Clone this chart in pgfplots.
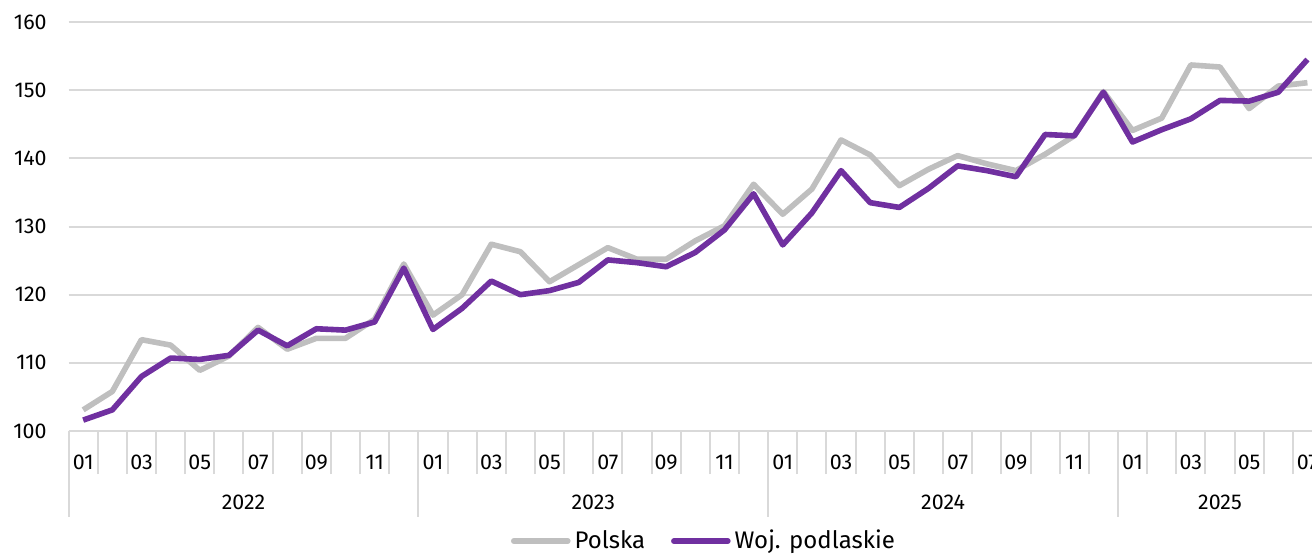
\documentclass[border=0pt]{standalone}
\usepackage{fontspec}
\setmainfont{Fira Sans}
\usepackage{pgfplots}
\pgfplotsset{compat=1.18}
\definecolor{pgray}{HTML}{BFBFBF}
\definecolor{ppurple}{HTML}{7030A0}
\definecolor{gridgray}{HTML}{D9D9D9}
\begin{document}
\fontsize{10.5}{12}\selectfont
\begin{tikzpicture}
\begin{axis}[
  at={(0,0)}, anchor=south west,
  scale only axis,
  width=626.7pt, height=204.5pt,
  xmin=-0.5, xmax=42.5, ymin=100, ymax=160,
  clip=false,
  axis line style={draw=none},
  xtick pos=bottom, ytick pos=left,
  ytick={100,110,...,160},
  ymajorgrids, grid style={gridgray, line width=1pt},
  ytick style={draw=none},
  xtick={0,2,...,42},
  xticklabels={01,03,05,07,09,11,01,03,05,07,09,11,01,03,05,07,09,11,01,03,05,07},
  xtick style={draw=none},
  major tick length=0pt,
  minor xtick={0.5,1.5,...,41.5},
  minor tick length=21.5pt,
  tick align=outside,
  minor x tick style={draw=gridgray, line width=1pt},
  /pgf/number format/assume math mode=true,
  every tick label/.append style={font=\fontsize{10.7}{12}\selectfont, text=black},
  xticklabel style={anchor=center, yshift=-15.5pt},
  yticklabel style={anchor=east, xshift=-10.8pt, inner sep=0pt},
  legend style={at={(axis description cs:0.5077,-0.269)}, anchor=center, draw=none, fill=none,
    font=\fontsize{12}{13}\selectfont, inner sep=0pt,
    /tikz/every even column/.append style={column sep=11pt}},
  legend columns=-1,
  legend image code/.code={\draw[#1, line cap=round] (0pt,0pt) -- (27pt,0pt);},
]
\addplot[pgray, line width=2.8pt, line join=round] coordinates {
(0,103.1)(1,105.8)(2,113.4)(3,112.6)(4,108.9)(5,111.0)(6,115.2)(7,112.0)(8,113.6)(9,113.6)(10,116.4)(11,124.5)
(12,117.0)(13,120.0)(14,127.4)(15,126.3)(16,121.9)(17,124.4)(18,126.9)(19,125.2)(20,125.2)(21,127.9)(22,130.1)(23,136.2)
(24,131.8)(25,135.5)(26,142.7)(27,140.5)(28,136.0)(29,138.4)(30,140.4)(31,139.2)(32,138.2)(33,140.6)(34,143.3)(35,149.8)
(36,144.1)(37,145.9)(38,153.7)(39,153.4)(40,147.3)(41,150.6)(42,151.1)};
\addlegendentry{Polska}
\addplot[ppurple, line width=2.8pt, line join=round] coordinates {
(0,101.6)(1,103.1)(2,108.0)(3,110.7)(4,110.5)(5,111.1)(6,114.8)(7,112.5)(8,115.0)(9,114.8)(10,116.0)(11,123.9)
(12,114.9)(13,118.0)(14,122.0)(15,120.0)(16,120.6)(17,121.8)(18,125.1)(19,124.7)(20,124.1)(21,126.2)(22,129.5)(23,134.8)
(24,127.3)(25,132.0)(26,138.2)(27,133.5)(28,132.8)(29,135.6)(30,138.9)(31,138.2)(32,137.3)(33,143.5)(34,143.3)(35,149.7)
(36,142.4)(37,144.2)(38,145.8)(39,148.5)(40,148.4)(41,149.7)(42,154.5)};
\addlegendentry{Woj. podlaskie}
\draw[gridgray, line width=1pt] (axis cs:-0.5,100) -- ([yshift=-43pt]axis cs:-0.5,100);
\draw[gridgray, line width=1pt] (axis cs:11.5,100) -- ([yshift=-43pt]axis cs:11.5,100);
\draw[gridgray, line width=1pt] (axis cs:23.5,100) -- ([yshift=-43pt]axis cs:23.5,100);
\draw[gridgray, line width=1pt] (axis cs:35.5,100) -- ([yshift=-43pt]axis cs:35.5,100);
\node[font=\fontsize{10.7}{12}\selectfont] at ([yshift=-35.5pt]axis cs:5.5,100) {2022};
\node[font=\fontsize{10.7}{12}\selectfont] at ([yshift=-35.5pt]axis cs:17.5,100) {2023};
\node[font=\fontsize{10.7}{12}\selectfont] at ([yshift=-35.5pt]axis cs:29.5,100) {2024};
\node[font=\fontsize{10.7}{12}\selectfont] at ([yshift=-35.5pt]axis cs:39,100) {2025};
\end{axis}
\pgfresetboundingbox
\path[use as bounding box] (-34.3pt,-61pt) rectangle (621.7pt,215.5pt);
\end{tikzpicture}
\end{document}
